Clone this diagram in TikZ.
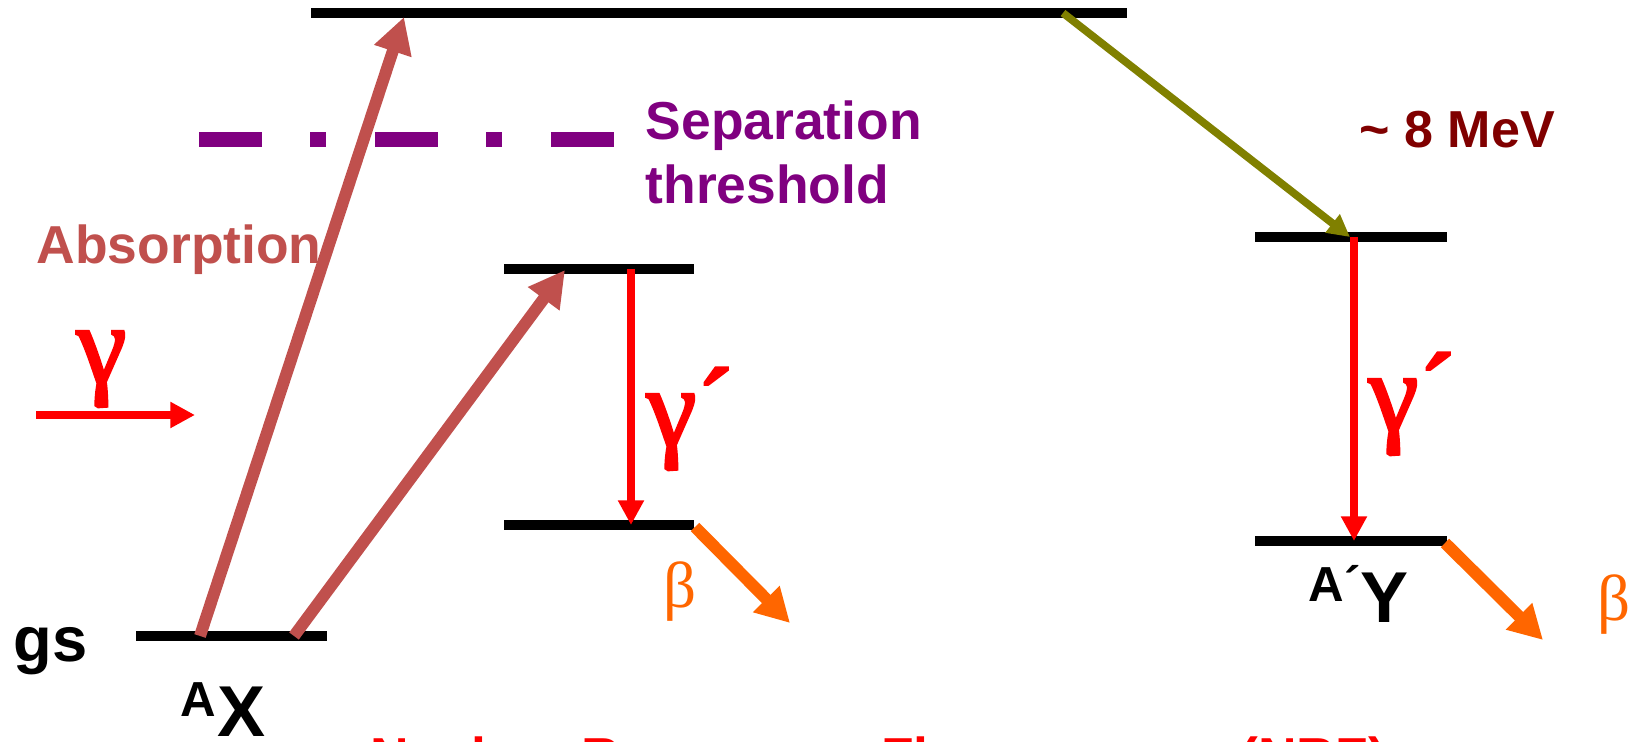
\documentclass[tikz,border=0pt]{standalone}
\usepackage{fontspec}
\setmainfont{Liberation Sans}
\newfontfamily\greekfont{Liberation Serif}
\newfontfamily\gammafont[FakeBold=2.5]{Liberation Serif}
\usepackage{tikz}
\usetikzlibrary{arrows.meta, positioning}

\definecolor{absred}{RGB}{192,80,77}
\definecolor{thrpurple}{RGB}{128,0,128}
\definecolor{mevred}{RGB}{128,0,0}
\definecolor{decayolive}{RGB}{128,128,0}
\definecolor{betaorange}{RGB}{255,102,0}

\begin{document}
\begin{tikzpicture}[
    level/.style={line width=2.85pt},
    lbl/.style={inner sep=0pt, anchor=base west},
    big/.style={font=\fontsize{15.2}{18.2}\selectfont\bfseries},
    greek/.style={font=\fontsize{32}{32}\selectfont\gammafont, text=red},
    betalbl/.style={font=\fontsize{18.5}{18.5}\selectfont\greekfont, text=betaorange},
    absarrow/.style={draw=absred, line width=3.4pt, -{Triangle[length=10.2pt,width=10.5pt]}},
    gammaarrow/.style={draw=red, line width=2.2pt, -{Triangle[length=7pt,width=7pt]}},
    betaarrow/.style={draw=betaorange, line width=3.4pt, -{Triangle[length=9.6pt,width=10pt]}},
]
\useasboundingbox (0,0) rectangle (16.39,7.42);
\clip (0,0) rectangle (16.39,7.42);

% Levels
\draw[level] (3.11,7.29) -- (11.27,7.29);
\draw[level] (5.04,4.73) -- (6.94,4.73);
\draw[level] (5.04,2.17) -- (6.94,2.17);
\draw[level] (1.36,1.06) -- (3.27,1.06);
\draw[level] (12.55,5.05) -- (14.47,5.05);
\draw[level] (12.55,2.01) -- (14.47,2.01);

% Arrow end points
\coordinate (gsL) at (2.00,1.06);
\coordinate (gsR) at (2.94,1.06);
\coordinate (topIn) at (4.04,7.25);
\coordinate (topOut) at (10.63,7.29);
\coordinate (midIn) at (5.65,4.72);
\coordinate (midOut) at (6.31,4.73);
\coordinate (lowIn) at (6.31,2.17);
\coordinate (lowOut) at (6.95,2.15);
\coordinate (betaL) at (7.90,1.19);
\coordinate (rUpIn) at (13.50,5.05);
\coordinate (rUpOut) at (13.54,5.05);
\coordinate (rLowIn) at (13.54,2.01);
\coordinate (rLowOut) at (14.45,1.99);
\coordinate (betaR) at (15.43,1.02);
\coordinate (beamA) at (0.36,3.27);
\coordinate (beamB) at (1.95,3.27);

% Separation threshold
\draw[thrpurple, line width=4.27pt, dash pattern=on 17.9pt off 13.8pt on 4.55pt off 13.8pt]
    (1.99,6.02) -- (6.15,6.02);
\node[lbl, big, text=thrpurple] (sep) at (6.45,6.02) {Separation};
\node[lbl, big, text=thrpurple] (thr) at (6.45,5.38) {threshold};

% Absorption
\node[lbl, big, text=absred] (absorb) at (0.36,4.78) {Absorption};
\draw[absarrow] (gsL) -- (topIn);
\draw[absarrow] (gsR) -- (midIn);

% Incoming photon
\draw[gammaarrow] (beamA) -- (beamB);
\node[lbl, greek] (gin) at (0.76,3.59) {γ};

% Re-emission
\draw[gammaarrow] (midOut) -- (lowIn);
\node[lbl, greek] (gout) at (6.46,2.96) {γ´};
\draw[betaarrow] (lowOut) -- (betaL);
\node[lbl, betalbl] (bl) at (6.63,1.34) {β};

% Decay to daughter
\draw[decayolive, line width=2.2pt, -{Triangle[length=6.3pt,width=6.3pt]}] (topOut) -- (rUpIn);
\node[lbl, font=\fontsize{14.8}{14.8}\selectfont\bfseries, text=mevred] (mev) at (13.59,5.94) {\textasciitilde{} 8 MeV};
\draw[gammaarrow] (rUpOut) -- (rLowIn);
\node[lbl, greek] (gout2) at (13.68,3.11) {γ´};
\draw[betaarrow] (rLowOut) -- (betaR);
\node[lbl, betalbl] (br) at (15.97,1.21) {β};

% Nuclei
\node[lbl, font=\fontsize{18}{18}\selectfont\bfseries] (gs) at (0.13,0.80) {gs};
\node[lbl, font=\fontsize{14}{14}\selectfont\bfseries] (massX) at (1.80,0.25) {A};
\node[lbl, font=\fontsize{20.5}{20.5}\selectfont\bfseries] (nucX) at (2.17,0.05) {X};
\node[lbl, font=\fontsize{14}{14}\selectfont\bfseries] (massY) at (13.08,1.40) {A´};
\node[lbl, font=\fontsize{20.5}{20.5}\selectfont\bfseries] (nucY) at (13.60,1.19) {Y};

% Title (cut at the bottom edge)
\node[lbl, big, text=red] (title) at (3.70,-0.34) {Nuclear Resonance Fluorescence (NRF)};

\end{tikzpicture}
\end{document}
